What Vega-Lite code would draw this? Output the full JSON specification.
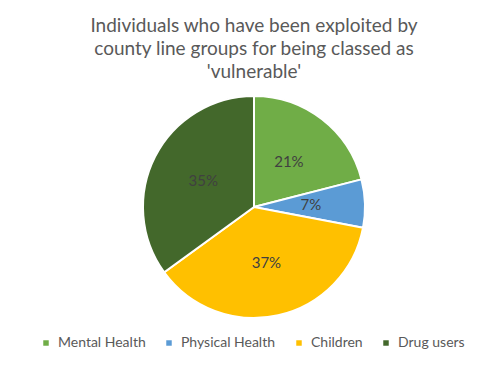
{
  "$schema": "https://vega.github.io/schema/vega-lite/v6.json",
  "width": 222,
  "height": 222,
  "autosize": "none",
  "padding": {"left": 143, "top": 96, "right": 113, "bottom": 53},
  "background": "white",
  "title": {
    "text": ["Individuals who have been exploited by", "county line groups for being classed as", "'vulnerable'"],
    "anchor": "middle",
    "frame": "group",
    "font": "Lato",
    "fontSize": 19,
    "fontWeight": "normal",
    "color": "#595959",
    "lineHeight": 23,
    "offset": 10
  },
  "data": {
    "values": [
      {"category": "Mental Health", "value": 21, "label": "21%", "order": 1},
      {"category": "Physical Health", "value": 7, "label": "7%", "order": 2},
      {"category": "Children", "value": 37, "label": "37%", "order": 3},
      {"category": "Drug users", "value": 35, "label": "35%", "order": 4}
    ]
  },
  "encoding": {
    "theta": {"field": "value", "type": "quantitative", "stack": true},
    "order": {"field": "order", "type": "quantitative"}
  },
  "layer": [
    {
      "mark": {"type": "arc", "outerRadius": 111, "stroke": "white", "strokeWidth": 2},
      "encoding": {
        "color": {
          "field": "category",
          "type": "nominal",
          "sort": ["Mental Health", "Physical Health", "Children", "Drug users"],
          "scale": {
            "domain": ["Mental Health", "Physical Health", "Children", "Drug users"],
            "range": ["#70AD47", "#5B9BD5", "#FFC000", "#43682B"]
          },
          "legend": {
            "title": null,
            "orient": "none",
            "direction": "horizontal",
            "legendX": -104,
            "legendY": 240,
            "symbolType": "square",
            "symbolSize": 30,
            "symbolStrokeWidth": 0,
            "labelFont": "Lato",
            "labelFontSize": 14,
            "labelColor": "#595959",
            "labelOffset": 5,
            "columnPadding": 16,
            "padding": 0
          }
        }
      }
    },
    {
      "mark": {"type": "text", "radius": 57, "font": "Lato", "fontSize": 15, "color": "#404040"},
      "encoding": {
        "text": {"field": "label", "type": "nominal"}
      }
    }
  ]
}
